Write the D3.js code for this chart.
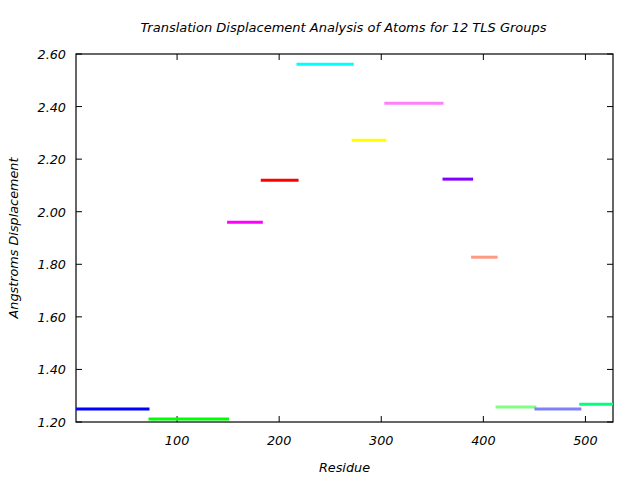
<!DOCTYPE html>
<html>
<head>
<meta charset="utf-8">
<script src="https://cdn.jsdelivr.net/npm/d3@7"></script>
<style>
  body { margin: 0; background: #fff; }
  text { font-family: "DejaVu Sans", sans-serif; font-style: italic; fill: #000; }
</style>
</head>
<body>
<div id="chart"></div>
<script>
// TLS groups: residue ranges and mean displacement
const groupStart = [1, 72, 149, 182, 217, 271, 303, 360, 388, 412, 450, 494];
const groupEnd = [73, 151, 184, 219, 273, 305, 361, 390, 414, 452, 496, 527];
const displacement = [1.249, 1.211, 1.960, 2.120, 2.561, 2.272, 2.413, 2.124, 1.827, 1.257, 1.249, 1.268];
const groupColors = ["#0000ff", "#00ff00", "#ff00ff", "#ff0000", "#00ffff", "#ffff00",
  "#ff80ff", "#8000ff", "#ff9980", "#80ff80", "#8080ff", "#00ff80"];
const xTicks = [100, 200, 300, 400, 500];
const yTicks = [1.2, 1.4, 1.6, 1.8, 2.0, 2.2, 2.4, 2.6];

const W = 640, H = 480;
const margin = { top: 54, right: 27, bottom: 58, left: 76 };
const width = W - margin.left - margin.right,
  height = H - margin.top - margin.bottom;

const svg = d3.select("#chart").append("svg")
  .attr("width", W)
  .attr("height", H);

const g = svg.append("g")
  .attr("transform", `translate(${margin.left},${margin.top})`);

const x = d3.scaleLinear().domain([1, 527]).range([0, width]);
const y = d3.scaleLinear().domain([1.2, 2.6]).range([height, 0]);

// frame
g.append("rect")
  .attr("width", width)
  .attr("height", height)
  .attr("fill", "none")
  .attr("stroke", "#000")
  .attr("stroke-width", 1.2);

// ticks, inward on all four sides
const tickLen = 6;
g.selectAll(".xt").data(xTicks).enter().append("path")
  .attr("d", d => `M${x(d)},${height}v${-tickLen}M${x(d)},0v${tickLen}`)
  .attr("stroke", "#000");
g.selectAll(".yt").data(yTicks).enter().append("path")
  .attr("d", d => `M0,${y(d)}h${tickLen}M${width},${y(d)}h${-tickLen}`)
  .attr("stroke", "#000");

g.selectAll(".xl").data(xTicks).enter().append("text")
  .attr("x", d => x(d))
  .attr("y", height + 23)
  .attr("text-anchor", "middle")
  .attr("font-size", 12.8)
  .text(d => d);
g.selectAll(".yl").data(yTicks).enter().append("text")
  .attr("x", -10)
  .attr("y", d => y(d) + 5)
  .attr("text-anchor", "end")
  .attr("font-size", 12.8)
  .text(d => d.toFixed(2));

// group segments
g.selectAll(".seg").data(displacement).enter().append("line")
  .attr("x1", (d, i) => x(groupStart[i]))
  .attr("x2", (d, i) => x(groupEnd[i]))
  .attr("y1", d => y(d))
  .attr("y2", d => y(d))
  .attr("stroke", (d, i) => groupColors[i])
  .attr("stroke-width", 3);

// labels
svg.append("text")
  .attr("x", margin.left + width / 2 - 1)
  .attr("y", 32)
  .attr("text-anchor", "middle")
  .attr("font-size", 13)
  .text("Translation Displacement Analysis of Atoms for 12 TLS Groups");
svg.append("text")
  .attr("x", margin.left + width / 2)
  .attr("y", 472)
  .attr("text-anchor", "middle")
  .attr("font-size", 12.8)
  .text("Residue");
svg.append("text")
  .attr("transform", `translate(18,${margin.top + height / 2}) rotate(-90)`)
  .attr("text-anchor", "middle")
  .attr("font-size", 12.8)
  .text("Angstroms Displacement");
</script>
</body>
</html>
